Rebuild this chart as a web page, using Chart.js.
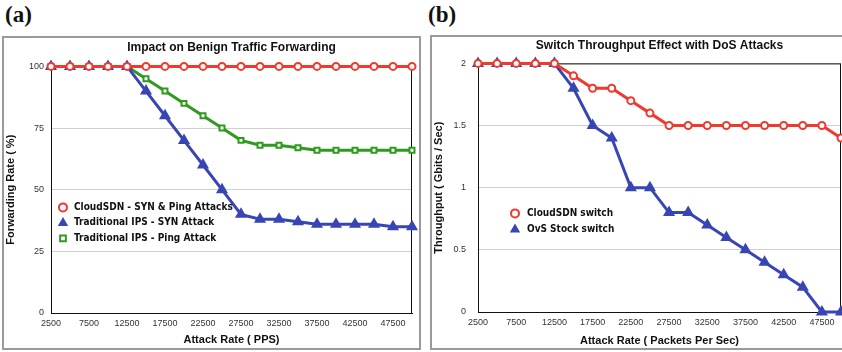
<!DOCTYPE html>
<html>
<head>
<meta charset="utf-8">
<script src="https://cdn.jsdelivr.net/npm/chart.js@4/dist/chart.umd.min.js"></script>
<style>
  body { margin: 0; width: 842px; height: 352px; overflow: hidden; background: #fff; position: relative; }
  .tag { position: absolute; font: bold 23px "Liberation Serif", "Times New Roman", serif; color: #111; }
  .panel { position: absolute; border: 2px solid #9a9a9a; box-sizing: border-box; background: #fff; }
  .panel canvas { display: block; }
</style>
</head>
<body>
<div class="tag" style="left:5px; top:2px;">(a)</div>
<div class="tag" style="left:428px; top:2px;">(b)</div>
<div class="panel" style="left:2px; top:36px; width:419px; height:314px;">
  <canvas id="fwdChart" width="415" height="310"></canvas>
</div>
<div class="panel" style="left:430px; top:35px; width:430px; height:315px;">
  <canvas id="tputChart" width="426" height="311"></canvas>
</div>
<script>
// x categories (attack rate)
const rates = ['2500', '5000', '7500', '10000', '12500', '15000', '17500', '20000', '22500', '25000',
               '27500', '30000', '32500', '35000', '37500', '40000', '42500', '45000', '47500', '50000'];

// (a) forwarding rate, %
const cloudFwd = [100, 100, 100, 100, 100, 100, 100, 100, 100, 100, 100, 100, 100, 100, 100, 100, 100, 100, 100, 100];
const synFwd   = [100, 100, 100, 100, 100, 90, 80, 70, 60, 50, 40, 38, 38, 37, 36, 36, 36, 36, 35, 35];
const pingFwd  = [100, 100, 100, 100, 100, 95, 90, 85, 80, 75, 70, 68, 68, 67, 66, 66, 66, 66, 66, 66];

// (b) throughput, Gbits/s
const cloudTput = [2, 2, 2, 2, 2, 1.9, 1.8, 1.8, 1.7, 1.6, 1.5, 1.5, 1.5, 1.5, 1.5, 1.5, 1.5, 1.5, 1.5, 1.4];
const ovsTput   = [2, 2, 2, 2, 2, 1.8, 1.5, 1.4, 1.0, 1.0, 0.8, 0.8, 0.7, 0.6, 0.5, 0.4, 0.3, 0.2, 0, 0];

const RED = '#ee3a2f', BLUE = '#3845b4', GREEN = '#2e9a1e';

// legend drawn inside the plot + black plot frame
const insidePlot = {
  id: 'insidePlot',
  beforeDatasetsDraw(chart) {
    const { ctx, chartArea: a } = chart;
    ctx.save();
    ctx.strokeStyle = '#111';
    ctx.lineWidth = 1;
    ctx.strokeRect(a.left + 0.5, a.top + 0.5, a.right - a.left - 1, a.bottom - a.top);
    ctx.restore();
  },
  afterDraw(chart, args, opts) {
    const { ctx, chartArea: a } = chart;
    ctx.save();
    ctx.font = 'bold 10px "DejaVu Sans Condensed", "Liberation Sans", sans-serif';
    ctx.textBaseline = 'middle';
    chart.data.datasets.forEach((ds, i) => {
      const x = a.left + opts.x, y = a.top + opts.y + i * opts.rowH;
      ctx.fillStyle = ds.pointBackgroundColor;
      ctx.strokeStyle = ds.borderColor;
      ctx.lineWidth = 2;
      Chart.helpers.drawPoint(ctx, { pointStyle: ds.pointStyle, radius: 4, rotation: 0, borderWidth: 2 }, x, y);
      ctx.fillStyle = '#111';
      ctx.fillText(ds.label, x + opts.gap, y);
    });
    ctx.restore();
  }
};

function line(label, data, color, style, order) {
  const filled = style === 'triangle';
  return {
    label: label,
    data: data,
    borderColor: color,
    borderWidth: 3,
    pointStyle: style,
    pointRadius: filled ? 5 : 3.5,
    pointBorderWidth: 2,
    pointBackgroundColor: filled ? color : '#fff',
    pointBorderColor: color,
    tension: 0,
    clip: false,
    order: order
  };
}

function makeOptions(cfg) {
  return {
    responsive: false,
    animation: false,
    devicePixelRatio: 1,
    layout: { padding: { top: 0, right: cfg.padRight, left: 0, bottom: 0 } },
    plugins: {
      legend: { display: false },
      tooltip: { enabled: false },
      title: {
        display: true,
        text: cfg.title,
        fullSize: false,
        color: '#111',
        font: { family: '"Liberation Sans", Arial, sans-serif', size: 12, weight: 'bold' },
        padding: { top: cfg.titleTop, bottom: cfg.titleBottom }
      },
      insidePlot: cfg.legend
    },
    scales: {
      x: {
        offset: false,
        grid: { display: false, drawTicks: false },
        border: { color: '#111' },
        ticks: {
          autoSkip: false,
          maxRotation: 0,
          padding: 5,
          color: '#333',
          font: { family: '"Liberation Sans", Arial, sans-serif', size: 9 },
          callback: (v, i) => (i % 2 === 0 ? rates[i] : '')
        },
        title: {
          display: true,
          text: cfg.xTitle,
          color: '#111',
          padding: { top: 0, bottom: cfg.xTitleBottom },
          font: { family: '"Liberation Sans", Arial, sans-serif', size: 11, weight: 'bold' }
        },
        afterFit: (s) => { s.height = cfg.xHeight; }
      },
      y: {
        min: 0,
        max: cfg.yMax,
        grid: { color: '#cfcfcf', drawTicks: false },
        border: { color: '#111' },
        ticks: {
          stepSize: cfg.yStep,
          padding: cfg.yTickPad,
          color: '#333',
          font: { family: '"Liberation Sans", Arial, sans-serif', size: 9 },
          callback: (v) => String(v)
        },
        title: {
          display: true,
          text: cfg.yTitle,
          color: '#111',
          padding: { top: 0, bottom: 0 },
          font: { family: '"Liberation Sans", Arial, sans-serif', size: 11, weight: 'bold' }
        },
        afterFit: (s) => { s.width = cfg.yWidth; }
      }
    }
  };
}

new Chart(document.getElementById('fwdChart'), {
  type: 'line',
  data: {
    labels: rates,
    datasets: [
      line('CloudSDN - SYN & Ping Attacks', cloudFwd, RED, 'circle', 0),
      line('Traditional IPS - SYN Attack', synFwd, BLUE, 'triangle', 1),
      line('Traditional IPS - Ping Attack', pingFwd, GREEN, 'rect', 2)
    ]
  },
  options: makeOptions({
    title: 'Impact on Benign Traffic Forwarding',
    xTitle: 'Attack Rate ( PPS)',
    yTitle: 'Forwarding Rate ( %)',
    yMax: 100, yStep: 25, yTickPad: 7,
    yWidth: 47, xHeight: 35, padRight: 7,
    titleTop: 2, titleBottom: 12, xTitleBottom: 1,
    legend: { x: 12, y: 141, rowH: 15.5, gap: 11 }
  }),
  plugins: [insidePlot]
});

new Chart(document.getElementById('tputChart'), {
  type: 'line',
  data: {
    labels: rates,
    datasets: [
      line('CloudSDN switch', cloudTput, RED, 'circle', 0),
      line('OvS Stock switch', ovsTput, BLUE, 'triangle', 1)
    ]
  },
  options: makeOptions({
    title: 'Switch Throughput Effect with DoS Attacks',
    xTitle: 'Attack Rate ( Packets Per Sec)',
    yTitle: 'Throughput ( Gbits / Sec)',
    yMax: 2, yStep: 0.5, yTickPad: 12,
    yWidth: 46, xHeight: 36, padRight: 17,
    titleTop: 1, titleBottom: 11, xTitleBottom: 0,
    legend: { x: 37, y: 150, rowH: 16, gap: 12 }
  }),
  plugins: [insidePlot]
});
</script>
</body>
</html>
